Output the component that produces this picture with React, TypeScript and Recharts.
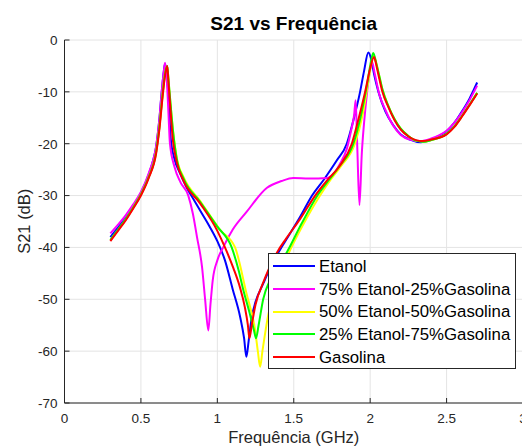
import React from 'react';
import { LineChart, Line, XAxis, YAxis, CartesianGrid, Legend } from 'recharts';

// ---- data (frequency in GHz, S21 in dB) ----
const xTicks = [0, 0.5, 1, 1.5, 2, 2.5, 3];
const yTicks = [-70, -60, -50, -40, -30, -20, -10, 0];

const etanolFreq = [0.30, 0.35, 0.40, 0.45, 0.50, 0.55, 0.58, 0.60, 0.62, 0.636, 0.65, 0.658, 0.668, 0.68, 0.695, 0.72, 0.756, 0.80, 0.85, 0.90, 0.95, 1.00, 1.05, 1.10, 1.15, 1.175, 1.19, 1.205, 1.225, 1.25, 1.30, 1.36, 1.43, 1.54, 1.62, 1.70, 1.78, 1.847, 1.89, 1.934, 1.96, 1.988, 2.005, 2.025, 2.054, 2.10, 2.15, 2.20, 2.26, 2.33, 2.40, 2.45, 2.50, 2.55, 2.60, 2.65, 2.70];
const etanolS21 = [-38.0, -36.2, -34.2, -32.0, -29.5, -26.0, -23.2, -20.5, -15.5, -10.0, -6.0, -4.6, -6.5, -10.5, -19.0, -23.0, -25.7, -28.5, -31.0, -33.5, -36.0, -38.8, -42.5, -48.0, -53.5, -57.5, -61.1, -58.0, -53.5, -50.5, -47.0, -43.0, -39.5, -34.2, -30.0, -26.8, -23.3, -20.0, -15.5, -10.0, -6.0, -2.4, -3.5, -6.5, -10.0, -13.8, -16.4, -18.2, -19.2, -19.7, -19.2, -18.5, -17.6, -16.0, -13.8, -11.3, -8.2];

const e75Freq = [0.30, 0.35, 0.40, 0.45, 0.50, 0.55, 0.60, 0.62, 0.636, 0.65, 0.658, 0.668, 0.68, 0.69, 0.72, 0.76, 0.81, 0.84, 0.867, 0.90, 0.92, 0.941, 0.955, 0.97, 1.00, 1.04, 1.10, 1.19, 1.325, 1.42, 1.497, 1.60, 1.72, 1.76, 1.80, 1.847, 1.875, 1.895, 1.905, 1.915, 1.93, 1.945, 1.96, 1.98, 2.00, 2.012, 2.03, 2.06, 2.10, 2.15, 2.20, 2.26, 2.33, 2.40, 2.45, 2.50, 2.55, 2.60, 2.65, 2.70];
const e75S21 = [-37.3, -35.6, -33.8, -31.7, -29.3, -25.8, -20.3, -15.5, -10.0, -6.0, -4.4, -7.0, -14.0, -20.0, -24.5, -27.5, -30.0, -33.5, -38.0, -43.8, -50.0, -56.0, -51.0, -46.3, -42.5, -39.9, -36.6, -33.2, -28.5, -27.2, -26.6, -26.7, -26.6, -25.8, -24.0, -21.0, -17.5, -14.5, -11.6, -20.0, -31.8, -22.0, -16.0, -10.0, -5.5, -4.2, -6.5, -10.5, -13.5, -16.5, -18.3, -19.2, -19.5, -19.0, -18.4, -17.5, -16.0, -14.0, -11.6, -8.8];

const e50Freq = [0.30, 0.35, 0.40, 0.45, 0.50, 0.55, 0.60, 0.62, 0.64, 0.655, 0.672, 0.68, 0.69, 0.71, 0.735, 0.78, 0.887, 1.018, 1.116, 1.19, 1.247, 1.265, 1.28, 1.295, 1.33, 1.38, 1.47, 1.56, 1.672, 1.74, 1.81, 1.90, 1.95, 1.985, 2.005, 2.02, 2.04, 2.06, 2.08, 2.12, 2.16, 2.20, 2.25, 2.30, 2.35, 2.40, 2.50, 2.55, 2.60, 2.65, 2.70];
const e50S21 = [-38.6, -36.6, -34.6, -32.3, -29.8, -26.5, -21.5, -17.0, -11.0, -7.0, -5.0, -7.5, -11.0, -17.5, -22.8, -26.5, -31.0, -36.6, -40.0, -48.8, -55.9, -60.0, -63.0, -60.0, -53.5, -47.0, -40.9, -35.7, -30.0, -27.0, -24.3, -20.0, -14.5, -8.5, -5.0, -2.8, -4.5, -7.0, -9.5, -12.8, -15.3, -17.1, -18.5, -19.4, -19.6, -19.3, -18.1, -16.7, -14.7, -12.5, -10.2];

const e25Freq = [0.30, 0.35, 0.40, 0.45, 0.50, 0.55, 0.60, 0.62, 0.64, 0.655, 0.672, 0.68, 0.69, 0.71, 0.735, 0.78, 0.887, 1.00, 1.094, 1.14, 1.17, 1.21, 1.24, 1.253, 1.27, 1.30, 1.35, 1.456, 1.55, 1.655, 1.73, 1.80, 1.89, 1.94, 1.98, 2.00, 2.02, 2.04, 2.06, 2.08, 2.12, 2.16, 2.20, 2.25, 2.30, 2.35, 2.40, 2.50, 2.55, 2.60, 2.65, 2.70];
const e25S21 = [-38.6, -36.6, -34.6, -32.3, -29.8, -26.5, -21.5, -17.0, -11.0, -7.0, -5.0, -7.5, -11.0, -17.5, -23.0, -26.8, -31.2, -36.0, -40.0, -44.5, -48.2, -52.5, -56.0, -57.5, -55.0, -50.0, -46.0, -40.9, -35.5, -30.0, -27.0, -24.3, -20.0, -14.5, -8.5, -5.0, -2.5, -4.5, -7.0, -9.5, -12.8, -15.3, -17.1, -18.5, -19.4, -19.6, -19.3, -18.1, -16.7, -14.7, -12.5, -10.2];

const gasolinaFreq = [0.30, 0.35, 0.40, 0.45, 0.50, 0.55, 0.60, 0.62, 0.64, 0.655, 0.672, 0.68, 0.69, 0.708, 0.734, 0.78, 0.887, 1.00, 1.05, 1.105, 1.149, 1.18, 1.20, 1.21, 1.225, 1.25, 1.30, 1.39, 1.45, 1.54, 1.64, 1.72, 1.80, 1.88, 1.93, 1.967, 2.00, 2.025, 2.045, 2.06, 2.08, 2.12, 2.16, 2.20, 2.25, 2.30, 2.34, 2.40, 2.50, 2.55, 2.60, 2.65, 2.70];
const gasolinaS21 = [-38.8, -36.8, -34.8, -32.5, -30.0, -26.7, -21.8, -17.5, -11.5, -7.5, -5.0, -8.0, -12.0, -19.0, -23.5, -27.2, -31.5, -36.8, -40.0, -44.0, -47.8, -51.5, -55.0, -57.5, -55.0, -51.0, -46.8, -41.0, -38.3, -34.6, -30.0, -27.0, -24.3, -20.0, -14.5, -10.0, -5.5, -3.3, -5.5, -7.5, -10.0, -13.0, -15.5, -17.3, -18.6, -19.3, -19.5, -19.2, -18.2, -16.8, -14.8, -12.6, -10.3];

const seriesNames = ['Etanol', '75% Etanol-25%Gasolina', '50% Etanol-50%Gasolina', '25% Etanol-75%Gasolina', 'Gasolina'];
const seriesColors = ['#0000ff', '#ff00ff', '#ffff00', '#00ff00', '#ff0000'];
const seriesFreqs = [etanolFreq, e75Freq, e50Freq, e25Freq, gasolinaFreq];
const seriesValues = [etanolS21, e75S21, e50S21, e25S21, gasolinaS21];

const series = seriesNames.map((name, i) => ({
  name,
  color: seriesColors[i],
  data: seriesFreqs[i].map((x, j) => ({ x, y: seriesValues[i][j] })),
}));

const FONT = '"Liberation Sans", Arial, Helvetica, sans-serif';
const AXIS = '#262626';

const LegendBox = () => (
  <div
    style={{
      width: 248,
      height: 116,
      boxSizing: 'border-box',
      border: `1px solid ${AXIS}`,
      background: '#fff',
      paddingTop: 1,
      fontFamily: FONT,
    }}
  >
    {series.map((s) => (
      <div key={s.name} style={{ height: 22.7, display: 'flex', alignItems: 'center' }}>
        <svg width={50} height={10} style={{ flex: 'none' }}>
          <line x1={4} x2={46} y1={5} y2={5} stroke={s.color} strokeWidth={2} />
        </svg>
        <span style={{ fontSize: 16.8, color: '#000', whiteSpace: 'nowrap', lineHeight: '17px' }}>{s.name}</span>
      </div>
    ))}
  </div>
);

export default function App() {
  return (
    <div
      style={{
        position: 'absolute',
        left: 0,
        top: 0,
        width: 522,
        height: 448,
        overflow: 'hidden',
        background: '#fff',
        fontFamily: FONT,
      }}
    >
      <LineChart width={530} height={448} margin={{ top: 40, right: 7, bottom: 0, left: 0.5 }}>
        <CartesianGrid xAxisId="b" yAxisId="l" stroke="#e4e4e4" strokeWidth={1} />
        <XAxis
          xAxisId="b"
          type="number"
          dataKey="x"
          domain={[0, 3]}
          ticks={xTicks}
          allowDataOverflow
          height={45}
          stroke={AXIS}
          tickSize={-5}
          tickMargin={15}
          tick={{ fill: AXIS, fontSize: 13.5, fontFamily: FONT }}
        />
        <XAxis
          xAxisId="t"
          orientation="top"
          type="number"
          dataKey="x"
          domain={[0, 3]}
          ticks={xTicks}
          allowDataOverflow
          height={0}
          stroke={AXIS}
          tickSize={-5}
          tick={false}
        />
        <YAxis
          yAxisId="l"
          type="number"
          domain={[-70, 0]}
          ticks={yTicks}
          allowDataOverflow
          width={64}
          stroke={AXIS}
          tickSize={-5}
          tickMargin={12}
          tick={{ fill: AXIS, fontSize: 13.5, fontFamily: FONT }}
        />
        <YAxis
          yAxisId="r"
          orientation="right"
          type="number"
          domain={[-70, 0]}
          ticks={yTicks}
          allowDataOverflow
          width={0}
          stroke={AXIS}
          tickSize={-5}
          tick={false}
        />
        {series.map((s) => (
          <Line
            key={s.name}
            xAxisId="b"
            yAxisId="l"
            data={s.data}
            dataKey="y"
            name={s.name}
            type="monotone"
            stroke={s.color}
            strokeWidth={2}
            dot={false}
            activeDot={false}
            isAnimationActive={false}
          />
        ))}
        <Legend
          layout="vertical"
          align="center"
          verticalAlign="middle"
          content={() => <LegendBox />}
          wrapperStyle={{ left: 268, top: 253, width: 248, height: 116, right: 'auto', bottom: 'auto' }}
        />
      </LineChart>
      <div
        style={{
          position: 'absolute',
          left: 64.5,
          width: 458.5,
          top: 14,
          textAlign: 'center',
          fontWeight: 'bold',
          fontSize: 19,
          lineHeight: '19px',
          color: '#000',
          whiteSpace: 'nowrap',
        }}
      >
        S21 vs Frequência
      </div>
      <div
        style={{
          position: 'absolute',
          left: 64.5,
          width: 458.5,
          top: 429,
          textAlign: 'center',
          fontSize: 16.5,
          lineHeight: '16.5px',
          color: AXIS,
          whiteSpace: 'nowrap',
        }}
      >
        Frequência (GHz)
      </div>
      <div
        style={{
          position: 'absolute',
          left: 24 - 60,
          top: 221.5 - 8.25,
          width: 120,
          height: 16.5,
          textAlign: 'center',
          fontSize: 16.5,
          lineHeight: '16.5px',
          color: AXIS,
          whiteSpace: 'nowrap',
          transform: 'rotate(-90deg)',
          transformOrigin: '50% 50%',
        }}
      >
        S21 (dB)
      </div>
    </div>
  );
}
